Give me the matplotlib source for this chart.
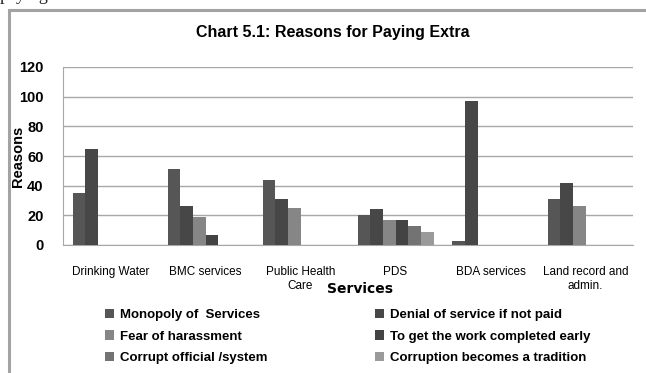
import numpy as np
import matplotlib
matplotlib.use("Agg")
import matplotlib.pyplot as plt
from matplotlib.patches import Rectangle

# ---------------------------------------------------------------
# Data
# ---------------------------------------------------------------
services = ["Drinking Water", "BMC services", "Public Health\nCare", "PDS",
            "BDA services", "Land record and\nadmin."]

reasons = ["Monopoly of  Services", "Denial of service if not paid",
           "Fear of harassment", "To get the work completed early",
           "Corrupt official /system", "Corruption becomes a tradition"]

monopoly = [35, 51, 44, 20, 3, 31]
denial = [65, 26, 31, 24, 97, 42]
fear = [0, 19, 25, 17, 0, 26]
work_early = [0, 7, 0, 17, 0, 0]
corrupt_official = [0, 0, 0, 13, 0, 0]
tradition = [0, 0, 0, 9, 0, 0]

series = [monopoly, denial, fear, work_early, corrupt_official, tradition]
colors = ["#565656", "#474747", "#868686", "#434343", "#737373", "#9a9a9a"]

yticks = [0, 20, 40, 60, 80, 100, 120]

plt.rcParams["font.family"] = ["Liberation Sans", "DejaVu Sans"]

fig = plt.figure(figsize=(6.46, 3.73), dpi=100)
fig.patch.set_facecolor("white")

# chart frame (cut off at right / bottom as in the scan)
top = 1 - 10 / 373
fig.patches.append(Rectangle((9 / 646, -0.2), 1.2, top + 0.2,
                             transform=fig.transFigure, fill=False,
                             edgecolor="#a3a3a3", lw=2.2, clip_on=False))

# bits of the page text above the chart
fig.text(0.0, 1.0, "paying", family="Liberation Serif",
         fontsize=13, va="baseline", ha="left", color="#222222")

ax = fig.add_axes([63 / 646, 1 - 245 / 373, 570 / 646, 178 / 373])

n = len(series)
x = np.arange(len(services))
w = 1 / (n + 1.5)
for i, (vals, c) in enumerate(zip(series, colors)):
    offs = (i - (n - 1) / 2) * w
    ax.bar(x + offs, vals, width=w, color=c, label=reasons[i], zorder=3)

ax.set_xlim(-0.5, len(services) - 0.5)
ax.set_ylim(0, 120)
ax.set_yticks(yticks)
ax.set_yticklabels([str(v) for v in yticks], fontsize=10.5, fontweight="bold")
ax.set_xticks(x)
ax.set_xticklabels(services, fontsize=8.5, linespacing=1.25)
ax.tick_params(axis="x", length=0, pad=15)
ax.tick_params(axis="y", length=0, pad=14)
ax.grid(axis="y", color="#a8a8a8", lw=1, zorder=0)
for s in ["top", "right"]:
    ax.spines[s].set_visible(False)
for s in ["left", "bottom"]:
    ax.spines[s].set_color("#a8a8a8")

ax.set_ylabel("Reasons", fontsize=10.5, fontweight="bold")
ax.yaxis.set_label_coords(-0.066, 0.5)
fig.text(360 / 646, 1 - 289 / 373, "Services", ha="center", va="center",
         fontsize=10, fontweight="bold", family="DejaVu Sans")

fig.text(333 / 646, 1 - 33 / 373, "Chart 5.1: Reasons for Paying Extra",
         ha="center", va="center", fontsize=11.5, fontweight="bold")

# legend: two columns, row order as in the original
h, l = ax.get_legend_handles_labels()
order = [0, 2, 4, 1, 3, 5]
fig.legend([h[k] for k in order], [l[k] for k in order], ncol=2,
           loc="upper left", bbox_to_anchor=(105 / 646, 1 - 309 / 373),
           frameon=False, prop={"size": 9.5, "weight": "bold"},
           handlelength=0.7, handleheight=0.7, handletextpad=0.4,
           columnspacing=8.2, labelspacing=0.7, borderaxespad=0,
           borderpad=0)

fig.savefig("out.png", dpi=100)
